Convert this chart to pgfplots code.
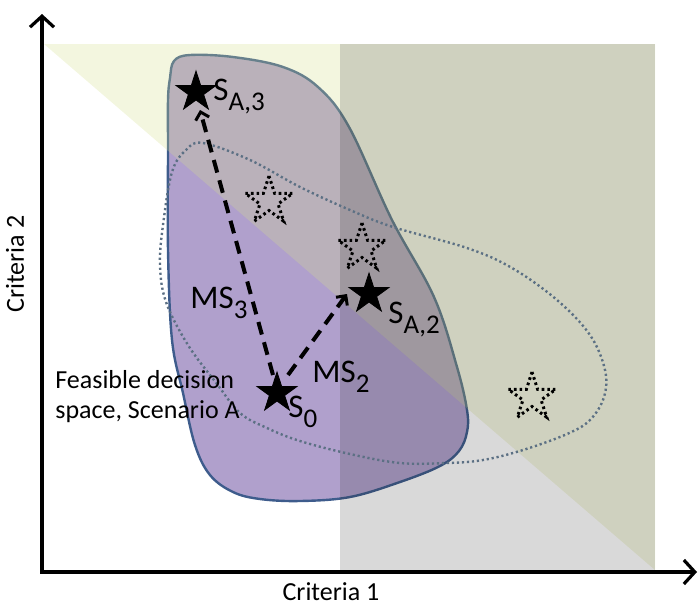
\documentclass[border=0pt]{standalone}
\usepackage{pgfplots}
\pgfplotsset{compat=1.18}
\usetikzlibrary{arrows.meta}
\usepackage{fontspec}
\setmainfont{Carlito}

\definecolor{blobfill}{RGB}{176,160,204}
\definecolor{blobline}{RGB}{62,92,140}
\definecolor{yellowtri}{RGB}{212,223,141}
\definecolor{grayrect}{RGB}{30,30,30}
\definecolor{dotline}{RGB}{92,112,132}

% five-pointed star marks
\pgfdeclareplotmark{fivestar}{%
  \pgfpathmoveto{\pgfpointpolar{90}{\pgfplotmarksize}}%
  \pgfpathlineto{\pgfpointpolar{126}{0.382\pgfplotmarksize}}%
  \pgfpathlineto{\pgfpointpolar{162}{\pgfplotmarksize}}%
  \pgfpathlineto{\pgfpointpolar{198}{0.382\pgfplotmarksize}}%
  \pgfpathlineto{\pgfpointpolar{234}{\pgfplotmarksize}}%
  \pgfpathlineto{\pgfpointpolar{270}{0.382\pgfplotmarksize}}%
  \pgfpathlineto{\pgfpointpolar{306}{\pgfplotmarksize}}%
  \pgfpathlineto{\pgfpointpolar{342}{0.382\pgfplotmarksize}}%
  \pgfpathlineto{\pgfpointpolar{18}{\pgfplotmarksize}}%
  \pgfpathlineto{\pgfpointpolar{54}{0.382\pgfplotmarksize}}%
  \pgfpathclose
  \pgfusepathqfillstroke}
\pgfdeclareplotmark{fivestaro}{%
  \pgfpathmoveto{\pgfpointpolar{90}{\pgfplotmarksize}}%
  \pgfpathlineto{\pgfpointpolar{126}{0.382\pgfplotmarksize}}%
  \pgfpathlineto{\pgfpointpolar{162}{\pgfplotmarksize}}%
  \pgfpathlineto{\pgfpointpolar{198}{0.382\pgfplotmarksize}}%
  \pgfpathlineto{\pgfpointpolar{234}{\pgfplotmarksize}}%
  \pgfpathlineto{\pgfpointpolar{270}{0.382\pgfplotmarksize}}%
  \pgfpathlineto{\pgfpointpolar{306}{\pgfplotmarksize}}%
  \pgfpathlineto{\pgfpointpolar{342}{0.382\pgfplotmarksize}}%
  \pgfpathlineto{\pgfpointpolar{18}{\pgfplotmarksize}}%
  \pgfpathlineto{\pgfpointpolar{54}{0.382\pgfplotmarksize}}%
  \pgfpathclose
  \pgfusepathqstroke}

\newcommand{\lab}[2]{{\fontsize{16.5}{19}\selectfont #1}{\fontsize{13.5}{15}\selectfont\raisebox{-5pt}{#2}}}

\begin{document}
\begin{tikzpicture}
\begin{axis}[
    scale only axis,
    width=349.5pt, height=303pt,
    xmin=0, xmax=699, ymin=0, ymax=606,
    y dir=reverse,
    hide axis,
    clip=false,
  ]
  % keep the full frame
  \addplot[draw=none, forget plot] coordinates {(0,0) (699,606)};

  % feasible decision space, scenario A
  \addplot[smooth cycle, tension=0.6, fill=blobfill, draw=blobline, line width=1.2pt]
    coordinates {
      (170,78) (174,61) (190,55) (233,57) (283,67) (318,87) (349,127)
      (392,220) (434,297) (457,367) (467,410) (467,432) (459,451)
      (440,466) (400,482) (350,497) (300,501) (260,499) (233,492)
      (210,475) (195,445) (183,393) (172,340) (168,250) (168,150) (168,100)
    };

  % background zones
  \addplot[draw=none, fill=yellowtri, fill opacity=0.28]
    coordinates {(44,44) (655,44) (655,570)} -- cycle;
  \addplot[draw=none, fill=grayrect, fill opacity=0.17]
    coordinates {(340,44) (655,44) (655,570) (340,570)} -- cycle;

  % dotted outline of the other scenario
  \addplot[smooth cycle, tension=0.6, draw=dotline, line width=1.2pt,
           dash pattern=on 1.1pt off 1.4pt]
    coordinates {
      (203,143) (250,160) (300,187) (350,210) (393,227) (467,248) (512,268)
      (557,300) (590,335) (605,370) (604,397) (590,420) (567,434)
      (523,450) (483,460) (447,463) (400,463) (350,454) (300,441)
      (267,428) (240,413) (217,384) (188,345) (166,302) (160,265)
      (163,225) (172,172) (186,150)
    };

  % dotted stars
  \addplot[only marks, mark=fivestaro, mark size=12.5pt,
           mark options={draw=black, line width=1.5pt, dash pattern=on 1.3pt off 1.5pt}]
    coordinates {(269,201) (362,248) (532,397)};

  % moves
  \addplot[black, line width=2pt, dash pattern=on 6.5pt off 4pt,
           -{Straight Barb[length=3.5pt, width=7pt, line width=1.5pt]}]
    coordinates {(273,375) (200,110)};
  \addplot[black, line width=2pt, dash pattern=on 6.5pt off 4pt,
           -{Straight Barb[length=3.5pt, width=7pt, line width=1.5pt]}]
    coordinates {(288,375) (347,294)};

  % solutions
  \addplot[only marks, mark=fivestar, mark size=10.5pt,
           mark options={draw=black, fill=black, line width=0.4pt, solid}]
    coordinates {(196,92) (369,294) (277,393)};

  % axes
  \addplot[black, line width=1.6pt, line join=miter,
           {Straight Barb[length=5.5pt, width=12pt, line width=1.6pt]}-{Straight Barb[length=5.5pt, width=12pt, line width=1.6pt]}]
    coordinates {(42,14) (42,572) (697,572)};

  % labels
  \node[anchor=base west, inner sep=0pt] at (axis cs:213,100) {\lab{S}{A,3}};
  \node[anchor=base west, inner sep=0pt] at (axis cs:388,323) {\lab{S}{A,2}};
  \node[anchor=base west, inner sep=0pt] at (axis cs:288,417) {\lab{S}{0}};
  \node[anchor=base west, inner sep=0pt] at (axis cs:190,308) {\lab{MS}{3}};
  \node[anchor=base west, inner sep=0pt] at (axis cs:312,382) {\lab{MS}{2}};
  \node[anchor=base west, inner sep=0pt, align=left, font=\fontsize{13}{15}\selectfont]
    at (axis cs:55,418) {Feasible decision\\space, Scenario A};
  \node[anchor=base, inner sep=0pt, font=\fontsize{13}{15}\selectfont]
    at (axis cs:331,600) {Criteria 1};
  \node[anchor=center, rotate=90, inner sep=0pt, font=\fontsize{13}{15}\selectfont]
    at (axis cs:15,264) {Criteria 2};
\end{axis}
\end{tikzpicture}
\end{document}
